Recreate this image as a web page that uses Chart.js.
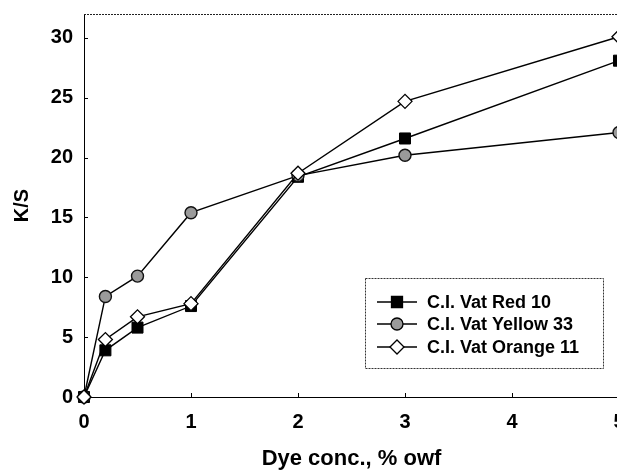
<!DOCTYPE html>
<html>
<head>
<meta charset="utf-8">
<script src="https://cdn.jsdelivr.net/npm/chart.js@4.4.0/dist/chart.umd.min.js"></script>
<style>
html, body { margin: 0; padding: 0; background: #fff; overflow: hidden; }
#wrap { width: 617px; height: 472px; overflow: hidden; position: relative; }
#wrap canvas { position: absolute; left: 0; top: 0; }
</style>
</head>
<body>
<div id="wrap"><canvas id="grafico" width="640" height="472"></canvas></div>
<script>
// valores (K/S vs concentracao)
const concentracoes = [0, 0.2, 0.5, 1, 2, 3, 5];
const vatRed10 = [0, 3.9, 5.8, 7.6, 18.4, 21.6, 28.1];
const vatYellow33 = [0, 8.4, 10.1, 15.4, 18.5, 20.2, 22.1];
const vatOrange11 = [0, 4.8, 6.7, 7.8, 18.7, 24.7, 30.1];
const nomesSeries = ['C.I. Vat Red 10', 'C.I. Vat Yellow 33', 'C.I. Vat Orange 11'];
const ticksX = [0, 1, 2, 3, 4, 5];
const ticksY = [0, 5, 10, 15, 20, 25, 30];

const fonte = "'Liberation Sans', Arial, sans-serif";
const pares = (ys) => concentracoes.map((c, i) => ({ x: c, y: ys[i] }));

function desenhaMarcador(ctx, tipo, x, y) {
    ctx.lineWidth = 1.3;
    ctx.strokeStyle = '#000';
    ctx.beginPath();
    if (tipo === 'rect') {
        ctx.fillStyle = '#000';
        ctx.rect(x - 5.5, y - 5.5, 11, 11);
    } else if (tipo === 'circle') {
        ctx.fillStyle = '#9a9a9a';
        ctx.arc(x, y, 6, 0, Math.PI * 2);
    } else {
        ctx.fillStyle = '#fff';
        ctx.moveTo(x - 7, y); ctx.lineTo(x, y - 7); ctx.lineTo(x + 7, y); ctx.lineTo(x, y + 7); ctx.closePath();
    }
    ctx.fill();
    ctx.stroke();
}

const molduraPlugin = {
    id: 'moldura',
    beforeDatasetsDraw(chart) {
        const ctx = chart.ctx;
        const a = chart.chartArea;
        const sx = chart.scales.x, sy = chart.scales.y;
        ctx.save();
        ctx.strokeStyle = '#222';
        ctx.lineWidth = 1;
        ctx.setLineDash([2, 1]);
        ctx.beginPath();
        ctx.moveTo(a.left, a.top + 0.5);
        ctx.lineTo(a.right, a.top + 0.5);
        ctx.lineTo(a.right - 0.5, a.bottom);
        ctx.stroke();
        ctx.setLineDash([]);
        ctx.strokeStyle = '#000';
        ctx.beginPath();
        ticksX.forEach(v => {
            let px = Math.round(sx.getPixelForValue(v)) + 0.5;
            ctx.moveTo(px, a.bottom); ctx.lineTo(px, a.bottom - 4);
        });
        ticksY.forEach(v => {
            let py = Math.round(sy.getPixelForValue(v)) + 0.5;
            ctx.moveTo(a.left, py); ctx.lineTo(a.left + 4, py);
        });
        ctx.stroke();
        ctx.restore();
    },
    afterDraw(chart) {
        const ctx = chart.ctx;
        ctx.save();
        // caixa da legenda
        ctx.fillStyle = '#fff';
        ctx.fillRect(365, 278, 238, 90);
        ctx.strokeStyle = '#333';
        ctx.lineWidth = 1;
        ctx.setLineDash([2, 1]);
        ctx.strokeRect(365.5, 278.5, 238, 90);
        ctx.setLineDash([]);
        const tipos = ['rect', 'circle', 'rectRot'];
        const linhasY = [302, 324, 347];
        nomesSeries.forEach((nome, i) => {
            let y = linhasY[i];
            ctx.strokeStyle = '#000';
            ctx.lineWidth = 1.3;
            ctx.beginPath();
            ctx.moveTo(377, y); ctx.lineTo(417, y);
            ctx.stroke();
            desenhaMarcador(ctx, tipos[i], 397, y);
            ctx.fillStyle = '#000';
            ctx.font = 'bold 18px ' + fonte;
            ctx.textBaseline = 'middle';
            ctx.fillText(nome, 427, y + 1);
        });
        ctx.restore();
    }
};

const ctx = document.getElementById('grafico').getContext('2d');
Chart.defaults.color = '#000';

new Chart(ctx, {
    type: 'line',
    data: {
        datasets: [{
            label: nomesSeries[0],
            data: pares(vatRed10),
            borderColor: '#000',
            borderWidth: 1.4,
            pointStyle: 'rect',
            pointRadius: 7.8,
            pointBackgroundColor: '#000',
            pointBorderColor: '#000',
            pointBorderWidth: 1,
            tension: 0,
            clip: false,
            order: 2
        }, {
            label: nomesSeries[1],
            data: pares(vatYellow33),
            borderColor: '#000',
            borderWidth: 1.4,
            pointStyle: 'circle',
            pointRadius: 6,
            pointBackgroundColor: '#9a9a9a',
            pointBorderColor: '#111',
            pointBorderWidth: 1.4,
            tension: 0,
            clip: false,
            order: 1
        }, {
            label: nomesSeries[2],
            data: pares(vatOrange11),
            borderColor: '#000',
            borderWidth: 1.4,
            pointStyle: 'rectRot',
            pointRadius: 7,
            pointBackgroundColor: '#fff',
            pointBorderColor: '#000',
            pointBorderWidth: 1.3,
            tension: 0,
            clip: false,
            order: 0
        }]
    },
    options: {
        responsive: false,
        animation: false,
        devicePixelRatio: 1,
        layout: { padding: { top: 14, right: 21, left: 0, bottom: 0 } },
        plugins: { legend: { display: false }, tooltip: { enabled: false } },
        scales: {
            x: {
                type: 'linear',
                min: 0,
                max: 5,
                afterFit: (s) => { s.height = 75; s.paddingLeft = 0; s.paddingRight = 0; },
                ticks: { stepSize: 1, padding: 13, font: { family: fonte, size: 20, weight: 'bold' }, color: '#000' },
                grid: { display: false, drawTicks: false },
                border: { display: true, color: '#000', width: 1 },
                title: { display: true, text: 'Dye conc., % owf', font: { family: fonte, size: 22, weight: 'bold' }, color: '#000', padding: { top: 0, bottom: 0 } }
            },
            y: {
                type: 'linear',
                min: 0,
                max: 32,
                afterFit: (s) => { s.width = 84; s.paddingTop = 0; s.paddingBottom = 0; },
                ticks: { stepSize: 5, includeBounds: false, padding: 11, font: { family: fonte, size: 20, weight: 'bold' }, color: '#000' },
                grid: { display: false, drawTicks: false },
                border: { display: true, color: '#000', width: 1 },
                title: { display: true, text: 'K/S', font: { family: fonte, size: 20, weight: 'bold' }, color: '#000', padding: { top: 10, bottom: 0 } }
            }
        }
    },
    plugins: [molduraPlugin]
});
</script>
</body>
</html>
